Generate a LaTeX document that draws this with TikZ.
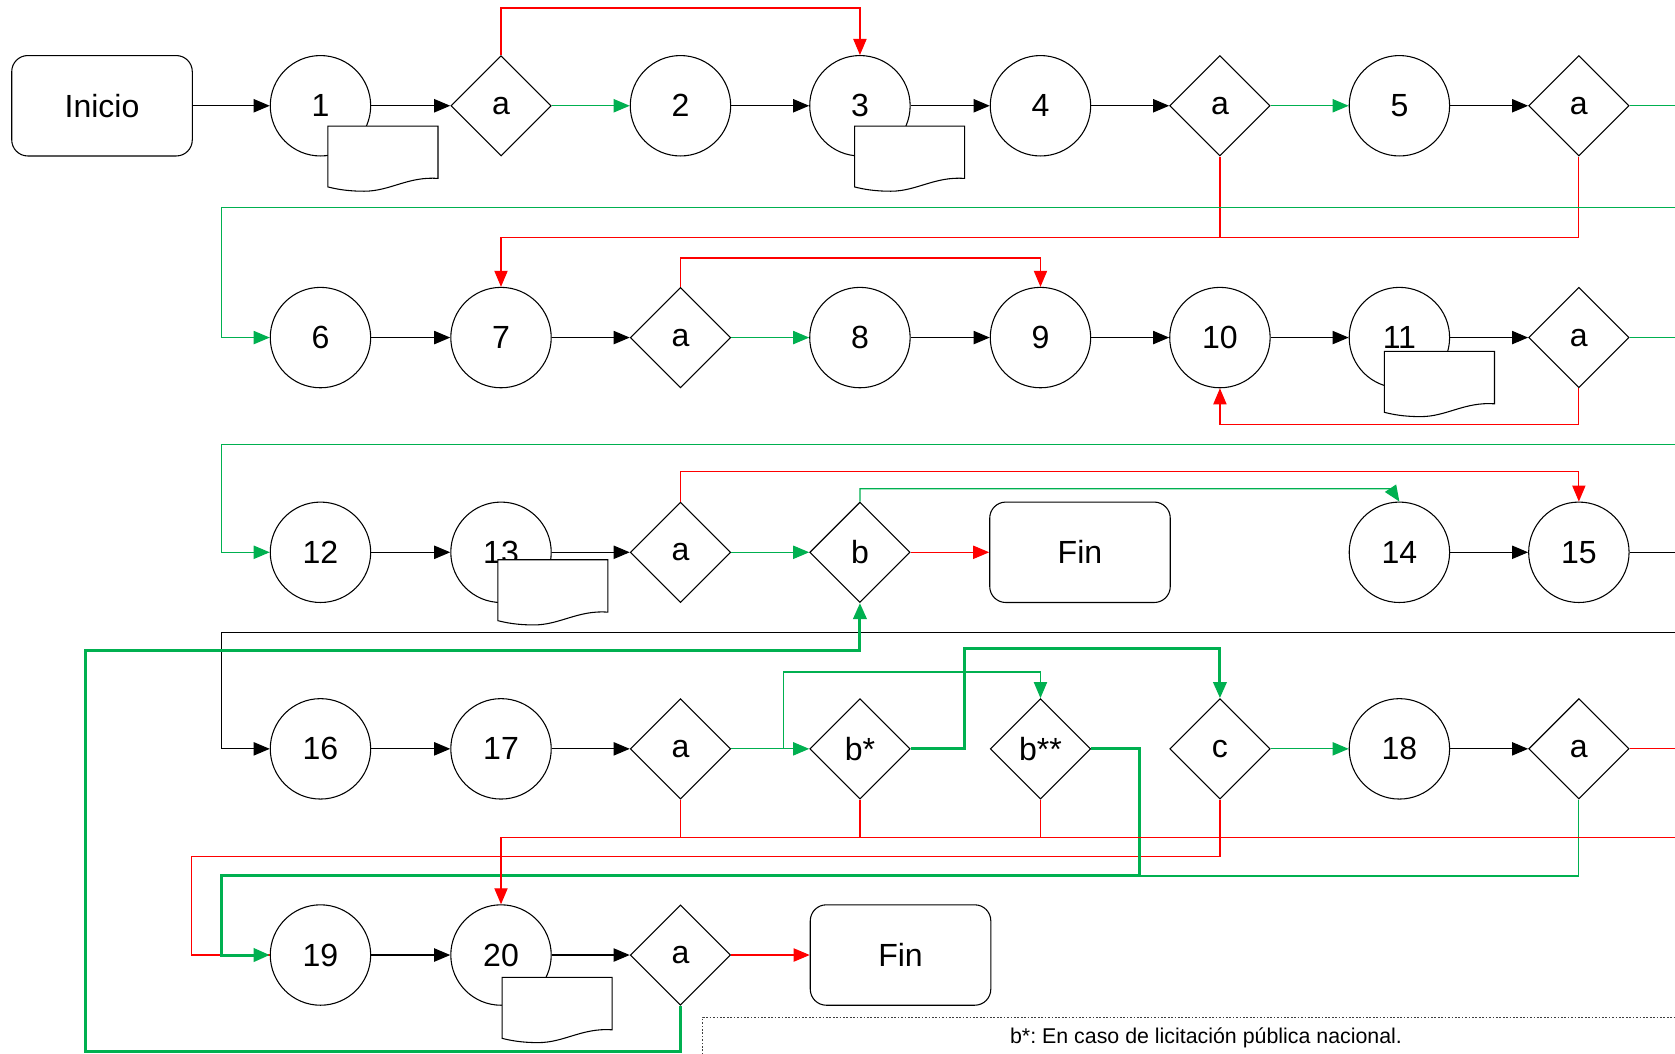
\documentclass[tikz,border=0pt]{standalone}
\usepackage{fontspec}
\setmainfont{Liberation Sans}
\usetikzlibrary{shapes.geometric,arrows.meta}
\definecolor{flowgreen}{RGB}{0,176,80}
\definecolor{flowred}{RGB}{255,0,0}
\frenchspacing

\begin{document}
\begin{tikzpicture}[x=0.5pt,y=-0.5pt,
  >={Triangle[length=7.5pt,width=6.2pt]},
  every node/.style={font=\fontsize{15}{18}\selectfont},
  proc/.style={circle,draw,line width=0.5pt,minimum size=47pt,inner sep=0pt,fill=white},
  dec/.style={diamond,draw,line width=0.5pt,minimum width=47pt,minimum height=47pt,inner sep=0pt,aspect=1,fill=white},
  term/.style={rectangle,rounded corners=7.5pt,draw,line width=0.5pt,minimum width=84.5pt,minimum height=47pt,fill=white},
  blk/.style={draw=black,line width=0.55pt},
  grn/.style={draw=flowgreen,line width=0.55pt},
  rd/.style={draw=flowred,line width=0.55pt},
  grnthick/.style={draw=flowgreen,line width=1.4pt},
  notebox/.style={draw=black!75,line width=0.4pt,dash pattern=on 0.8pt off 0.8pt},
  docsheet/.pic={
    \draw[line width=0.5pt,fill=white] (0,0) -- (103,0) -- (103,49)
      .. controls (75,47) and (58,61) .. (34,61)
      .. controls (18,61) and (8,59) .. (0,57) -- cycle;
  }
]
\clip (0,0) rectangle (1568,986);
\fill[white] (0,0) rectangle (1568,986);

% ---------- row 1 ----------
\node[term] (ini) at (95.5,99) {Inicio};
\node[proc] (n1) at (300,99) {1};
\node[dec]  (d1) at (469,99) {a};
\node[proc] (n2) at (637,99) {2};
\node[proc] (n3) at (805,99) {3};
\node[proc] (n4) at (974,99) {4};
\node[dec]  (d2) at (1142,99) {a};
\node[proc] (n5) at (1310,99) {5};
\node[dec]  (d3) at (1478,99) {a};

% ---------- row 2 ----------
\node[proc] (n6) at (300,316) {6};
\node[proc] (n7) at (469,316) {7};
\node[dec]  (d4) at (637,316) {a};
\node[proc] (n8) at (805,316) {8};
\node[proc] (n9) at (974,316) {9};
\node[proc] (n10) at (1142,316) {10};
\node[proc] (n11) at (1310,316) {11};
\node[dec]  (d5) at (1478,316) {a};

% ---------- row 3 ----------
\node[proc] (n12) at (300,517) {12};
\node[proc] (n13) at (469,517) {13};
\node[dec]  (d6) at (637,517) {a};
\node[dec]  (d7) at (805,517) {b};
\node[term] (fin1) at (1011,517) {Fin};
\node[proc] (n14) at (1310,517) {14};
\node[proc] (n15) at (1478,517) {15};

% ---------- row 4 ----------
\node[proc] (n16) at (300,701) {16};
\node[proc] (n17) at (469,701) {17};
\node[dec]  (d8) at (637,701) {a};
\node[dec]  (d9) at (805,701) {b*};
\node[dec]  (d10) at (974,701) {b**};
\node[dec]  (d11) at (1142,701) {c};
\node[proc] (n18) at (1310,701) {18};
\node[dec]  (d12) at (1478,701) {a};

% ---------- row 5 ----------
\node[proc] (n19) at (300,894) {19};
\node[proc] (n20) at (469,894) {20};
\node[dec]  (d13) at (637,894) {a};
\node[term] (fin2) at (843,894) {Fin};

% documents attached to activities
\pic (doc1) at (307,118) {docsheet};
\pic (doc3) at (800,118) {docsheet};
\pic (doc11) at (1296,329) {docsheet};
\pic (doc13) at (466,524) {docsheet};
\pic (doc20) at (470,915) {docsheet};

% loose ends leaving the sheet on the right
\coordinate (out1) at (1570,99);
\coordinate (ret1) at (1570,194);
\coordinate (out2) at (1570,316);
\coordinate (ret2) at (1570,416);
\coordinate (out3) at (1570,517);
\coordinate (ret3) at (1570,592);
\coordinate (out4) at (1570,701);
\coordinate (ret4) at (1570,784);

% ---------- row 1 connectors ----------
\draw[blk,->] (ini) -- (n1);
\draw[blk,->] (n1) -- (d1);
\draw[grn,->] (d1) -- (n2);
\draw[blk,->] (n2) -- (n3);
\draw[blk,->] (n3) -- (n4);
\draw[blk,->] (n4) -- (d2);
\draw[grn,->] (d2) -- (n5);
\draw[blk,->] (n5) -- (d3);
\draw[grn] (d3.east) -- (out1);
\draw[rd,->] (d1.north) -- ++(0,-44) -| (n3.north);
\draw[rd] (d2.south) -- ++(0,76);
\draw[rd,->] (d3.south) -- ++(0,76) -| (n7.north);
\draw[grn,->] (ret1) -| ([xshift=-22.5pt]n6.west) -- (n6.west);

% ---------- row 2 connectors ----------
\draw[blk,->] (n6) -- (n7);
\draw[blk,->] (n7) -- (d4);
\draw[grn,->] (d4) -- (n8);
\draw[blk,->] (n8) -- (n9);
\draw[blk,->] (n9) -- (n10);
\draw[blk,->] (n10) -- (n11);
\draw[blk,->] (n11) -- (d5);
\draw[grn] (d5.east) -- (out2);
\draw[rd,->] (d4.north) -- ++(0,-27) -| (n9.north);
\draw[rd,->] (d5.south) -- ++(0,34) -| (n10.south);
\draw[grn,->] (ret2) -| ([xshift=-22.5pt]n12.west) -- (n12.west);

% ---------- row 3 connectors ----------
\draw[blk,->] (n12) -- (n13);
\draw[blk,->] (n13) -- (d6);
\draw[grn,->] (d6) -- (d7);
\draw[rd,->] (d7) -- (fin1);
\draw[blk,->] (n14) -- (n15);
\draw[blk] (n15.east) -- (out3);
\draw[rd,->] (d6.north) -- ++(0,-28) -| (n15.north);
\draw[grn,->] (d7.north) |- ([xshift=-4pt,yshift=6pt]n14.north) -- (n14.north);
\draw[blk,->] (ret3) -| ([xshift=-22.5pt]n16.west) -- (n16.west);

% ---------- row 4 connectors ----------
\draw[blk,->] (n16) -- (n17);
\draw[blk,->] (n17) -- (d8);
\draw[grn,->] (d8) -- (d9);
\coordinate (br) at ([xshift=24.5pt]d8.east);
\draw[grn,->] (br) -- ++(0,-72) -| (d10.north);
\draw[grn,->] (d11) -- (n18);
\draw[blk,->] (n18) -- (d12);
\draw[rd] (d12.east) -- (out4);
\draw[rd] (d8.south) -- ++(0,36);
\draw[rd] (d9.south) -- ++(0,36);
\draw[rd] (d10.south) -- ++(0,36);
\draw[rd] (d11.south) -- ++(0,53) -| ([xshift=-36.5pt]n19.west) -- (n19.west);
\draw[grnthick,->] (d9.east) -- ++(50,0) |- ([yshift=23pt]d11.north) -- (d11.north);
\draw[grnthick,->] (d10.east) -- ++(45,0) -- ++(0,119) coordinate (jn)
  -| ([xshift=-22.5pt]n19.west) -- (n19.west);
\draw[grn] (d12.south) |- (jn);
\draw[rd,->] (ret4) -| (n20.north);

% ---------- row 5 connectors ----------
\draw[blk,->] (n19) -- (n20);
\draw[blk,->] (n20) -- (d13);
\draw[rd,->] (d13) -- (fin2);
\draw[grnthick,->] (d13.south) -- ++(0,43) -- ++(-557,0) -- ++(0,-376) -| (d7.south);

% ---------- note ----------
\draw[notebox] (658,1000) |- (1600,952);
\node[font=\fontsize{10}{12}\selectfont] (note) at (1129,972) {b*: En caso de licitación pública nacional.};
\end{tikzpicture}
\end{document}
